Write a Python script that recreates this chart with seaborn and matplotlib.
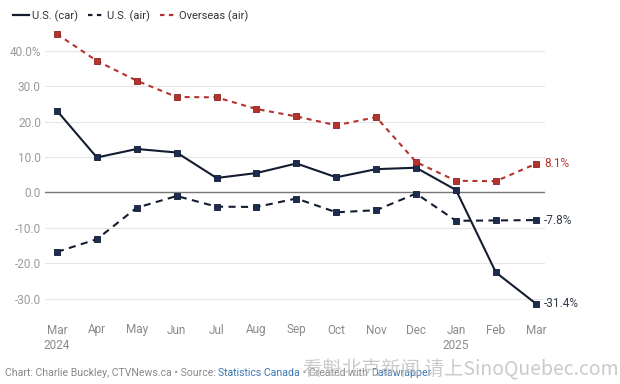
import pandas as pd
import numpy as np
import matplotlib
matplotlib.use("Agg")
import matplotlib.pyplot as plt
import seaborn as sns
from matplotlib.lines import Line2D

# data (year-over-year % change in trips)
months = ["Mar\n2024", "Apr", "May", "Jun", "Jul", "Aug", "Sep", "Oct", "Nov", "Dec", "Jan\n2025", "Feb", "Mar"]
us_car = [23.1, 9.9, 12.3, 11.3, 4.1, 5.5, 8.2, 4.3, 6.6, 7.0, 0.7, -22.6, -31.4]
us_air = [-16.8, -13.2, -4.3, -1.0, -4.0, -4.1, -1.7, -5.6, -5.0, -0.3, -8.0, -7.9, -7.8]
overseas_air = [44.8, 37.2, 31.6, 27.0, 26.9, 23.6, 21.5, 19.0, 21.3, 8.6, 3.3, 3.2, 8.1]
series_names = ["U.S. (car)", "U.S. (air)", "Overseas (air)"]
end_labels = ["-31.4%", "-7.8%", "8.1%"]
yticks = [-30, -20, -10, 0, 10, 20, 30, 40]

df = pd.DataFrame({
    "idx": list(range(len(months))) * 3,
    "value": us_car + us_air + overseas_air,
    "series": [s for s in series_names for _ in months],
})

navy = "#1d2d52"
red = "#b5332e"
palette = {"U.S. (car)": "#141c30", "U.S. (air)": "#141c30", "Overseas (air)": red}
dashes = {"U.S. (car)": "", "U.S. (air)": (3.4, 2.6), "Overseas (air)": (2.4, 2.2)}

plt.rcParams["font.family"] = ["Roboto", "Noto Sans CJK SC", "DejaVu Sans"]

fig = plt.figure(figsize=(6.2, 3.84), dpi=100)
ax = fig.add_axes([45 / 620, 1 - 311 / 384, 500 / 620, (311 - 28) / 384])

sns.lineplot(data=df, x="idx", y="value", hue="series", style="series",
             palette=palette, dashes=dashes, linewidth=1.5, legend=False, ax=ax)

# square markers
for vals, fc, ec in [(us_car, navy, "#0f1a33"), (us_air, navy, "#0f1a33"), (overseas_air, red, "#8c2420")]:
    ax.scatter(range(len(vals)), vals, marker="s", s=20, facecolor=fc, edgecolor=ec,
               linewidth=0.6, zorder=5)

ax.set_xlim(-0.3, 12.23)
ax.set_ylim(-33.5, 46.5)
ax.set_yticks(yticks)
ax.set_yticklabels([f"{v:.1f}%" if v == 40 else f"{v:.1f}" for v in yticks])
ax.set_xticks(range(len(months)))
ax.set_xticklabels(months, linespacing=1.25)
ax.tick_params(axis="both", length=0, labelsize=8.5, labelcolor="#9a9a9a")
ax.tick_params(axis="x", pad=9, labelcolor="#8a8a8a")
ax.tick_params(axis="y", pad=3)
for lab in ax.get_yticklabels():
    lab.set_horizontalalignment("right")
ax.set_xlabel("")
ax.set_ylabel("")
for s in ax.spines.values():
    s.set_visible(False)
ax.grid(axis="y", color="#e6e6e6", linewidth=0.8)
ax.set_axisbelow(True)
ax.axhline(0, color="#777777", linewidth=1.0, zorder=1)

# end-of-line value labels
for vals, lab, col in [(us_car, end_labels[0], "#333a4a"), (us_air, end_labels[1], "#333a4a"),
                       (overseas_air, end_labels[2], red)]:
    ax.annotate(lab, xy=(12, vals[-1]), xytext=(6, 0), textcoords="offset points",
                va="center", ha="left", fontsize=8.5, color=col, annotation_clip=False)

# legend
handles = [
    Line2D([], [], color="#141c30", linewidth=1.6),
    Line2D([], [], color="#141c30", linewidth=1.6, linestyle=(0, (2.0, 2.0))),
    Line2D([], [], color=red, linewidth=1.6, linestyle=(0, (2.0, 2.0))),
]
fig.legend(handles, series_names, loc="upper left", bbox_to_anchor=(0.005, 1.0), ncol=3,
           frameon=False, fontsize=8, handlelength=1.4, handletextpad=0.3,
           columnspacing=0.9, labelcolor="#333333")

# footer
fs = 7.6
t1 = fig.text(5 / 620, 1 - 373 / 384, "Chart: Charlie Buckley, CTVNews.ca \u2022 Source: ",
              fontsize=fs, color="#888888", va="center")
t2 = ax.annotate("Statistics Canada", xycoords=t1, xy=(1, 0), va="bottom",
                 fontsize=fs, color="#3b78b4")
t3 = ax.annotate(" \u2022 Created with ", xycoords=t2, xy=(1, 0), va="bottom",
                 fontsize=fs, color="#888888")
t4 = ax.annotate("Datawrapper", xycoords=t3, xy=(1, 0), va="bottom",
                 fontsize=fs, color="#3b78b4")

# watermark
fig.text(0.997, 1 - 370 / 384, "看魁北克新闻 请上SinoQuebec.com", ha="right", va="center",
         fontsize=14, color="#bdbdbd", alpha=0.8,
         family=["Noto Sans CJK SC", "DejaVu Sans"])

fig.savefig("out.png", dpi=100)
